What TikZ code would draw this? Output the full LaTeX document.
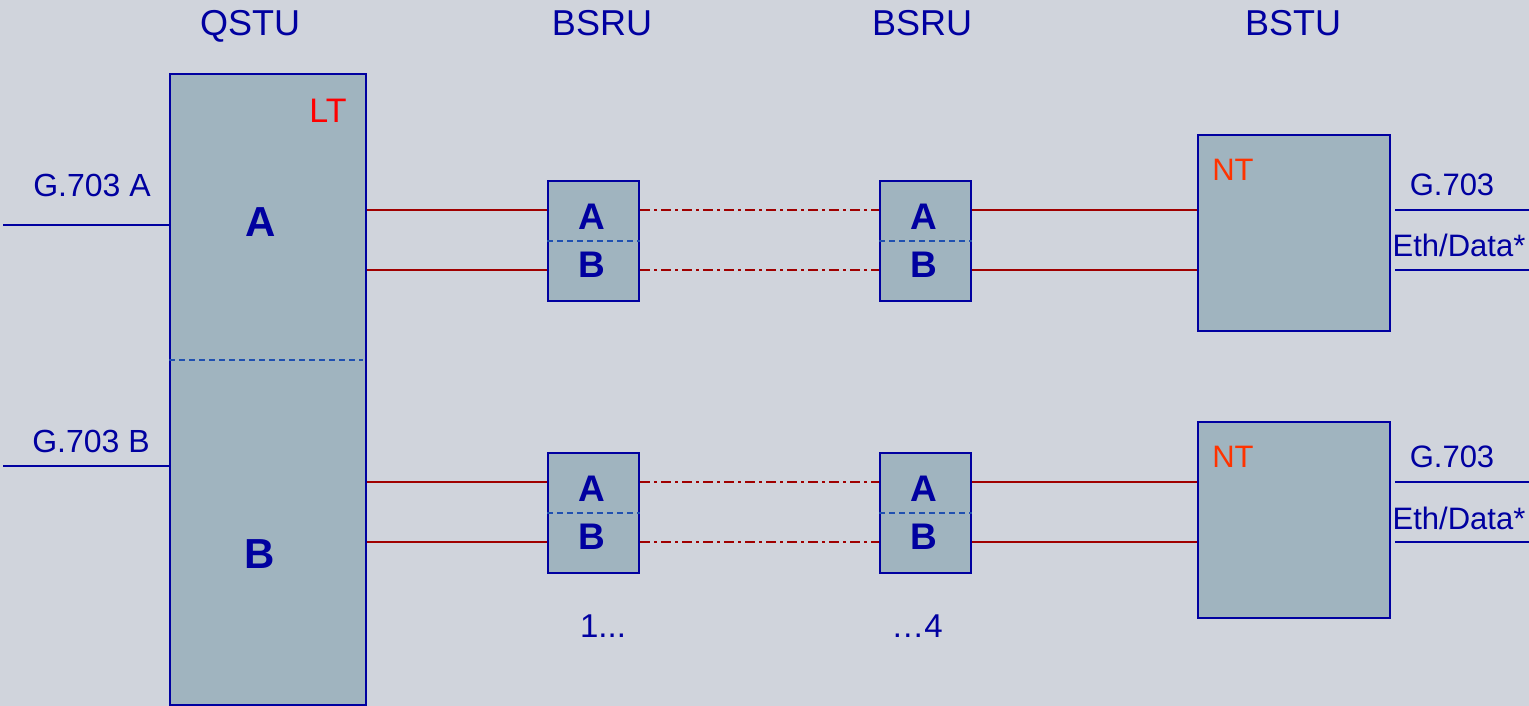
\documentclass[tikz,border=0pt]{standalone}
\usepackage{fontspec}
\setmainfont{Liberation Sans}
\usetikzlibrary{calc}
\definecolor{bg}{HTML}{D0D4DC}
\definecolor{boxfill}{HTML}{A0B4BF}
\definecolor{navy}{HTML}{0000A0}
\definecolor{dashblue}{HTML}{2050B0}
\definecolor{wire}{HTML}{A00000}
\definecolor{ltred}{HTML}{FF0000}
\definecolor{ntred}{HTML}{FF3300}
\tikzset{
  unit/.style={draw=navy, fill=boxfill, line width=2.2pt, rectangle, inner sep=0pt, anchor=north west},
  lbl/.style={text=navy, font=\fontsize{#1}{#1}\selectfont, inner sep=0pt},
  blbl/.style={text=navy, font=\fontsize{#1}{#1}\selectfont\bfseries, inner sep=0pt},
  sep/.style={draw=dashblue, line width=1.5pt, dash pattern=on 6pt off 4pt},
  wiresolid/.style={draw=wire, line width=2pt},
  wiredash/.style={draw=wire, line width=2pt, dash pattern=on 10pt off 4pt on 3pt off 4pt},
  iface/.style={draw=navy, line width=2pt},
}
\begin{document}
\begin{tikzpicture}[x=1pt,y=-1pt]
\useasboundingbox (0,0) rectangle (1529,706);
\fill[bg] (0,0) rectangle (1529,706);

% headings
\node[lbl=36, anchor=base] (hq) at (250,35.5) {QSTU};
\node[lbl=36, anchor=base] (hb1) at (602,35.5) {BSRU};
\node[lbl=36, anchor=base] (hb2) at (922,35.5) {BSRU};
\node[lbl=36, anchor=base] (hbt) at (1293,35.5) {BSTU};

% QSTU
\node[unit, minimum width=196pt, minimum height=631pt] (qstu) at (169,73) {};
\coordinate (qmid) at (0,360);
\draw[sep] (qstu.west |- qmid) -- ($(qstu.east |- qmid)+(-4,0)$);
\node[lbl=34, text=ltred] (lt) at (328,111) {LT};
\node[blbl=42] (qa) at (261,222) {A};
\node[blbl=42] (qb) at (260,554) {B};

% left interfaces
\coordinate (la) at (3,225);
\coordinate (lb) at (3,466);
\draw[iface] (la) -- (qstu.west |- la);
\draw[iface] (lb) -- (qstu.west |- lb);
\node[lbl=32] (g7a) at (92,185) {G.703 A};
\node[lbl=32] (g7b) at (91,441) {G.703 B};

% repeaters
\foreach \n/\x/\y in {s1/547/180, s2/879/180, s3/547/452, s4/879/452}{
  \node[unit, minimum width=91pt, minimum height=120pt] (\n) at (\x,\y) {};
  \draw[sep] (\n.west) -- (\n.east);
  \node[blbl=37] (\n a) at ($(\n.north)+(-2,37)$) {A};
  \node[blbl=37] (\n b) at ($(\n.south)+(-2,-37)$) {B};
}

% NT units
\node[unit, minimum width=192pt, minimum height=196pt] (nt1) at (1197,134) {};
\node[unit, minimum width=192pt, minimum height=196pt] (nt2) at (1197,421) {};
\node[lbl=31, text=ntred] (nt1l) at (1233,170) {NT};
\node[lbl=31, text=ntred] (nt2l) at (1233,457) {NT};

% wire levels
\coordinate (y1) at (0,210);
\coordinate (y2) at (0,270);
\coordinate (y3) at (0,482);
\coordinate (y4) at (0,542);

\foreach \r/\a/\b/\c in {y1/s1/s2/nt1, y2/s1/s2/nt1, y3/s3/s4/nt2, y4/s3/s4/nt2}{
  \draw[wiresolid] (qstu.east |- \r) -- (\a.west |- \r);
  \draw[wiredash] (\a.east |- \r) -- (\b.west |- \r);
  \draw[wiresolid] (\b.east |- \r) -- (\c.west |- \r);
}

% right interfaces
\coordinate (ra1) at (1529,210);
\coordinate (ra2) at (1529,270);
\coordinate (rb1) at (1529,482);
\coordinate (rb2) at (1529,542);
\draw[iface] ($(nt1.east |- ra1)+(4,0)$) -- (ra1);
\draw[iface] ($(nt1.east |- ra2)+(4,0)$) -- (ra2);
\draw[iface] ($(nt2.east |- rb1)+(4,0)$) -- (rb1);
\draw[iface] ($(nt2.east |- rb2)+(4,0)$) -- (rb2);
\node[lbl=31] (g1) at (1452,185) {G.703};
\node[lbl=31] (e1) at (1459,245) {Eth/Data*};
\node[lbl=31] (g2) at (1452,457) {G.703};
\node[lbl=31] (e2) at (1459,518) {Eth/Data*};

% counters
\node[lbl=33] (c1) at (603,626) {1...};
\node[lbl=33] (c4) at (917,626) {…4};
\end{tikzpicture}
\end{document}
